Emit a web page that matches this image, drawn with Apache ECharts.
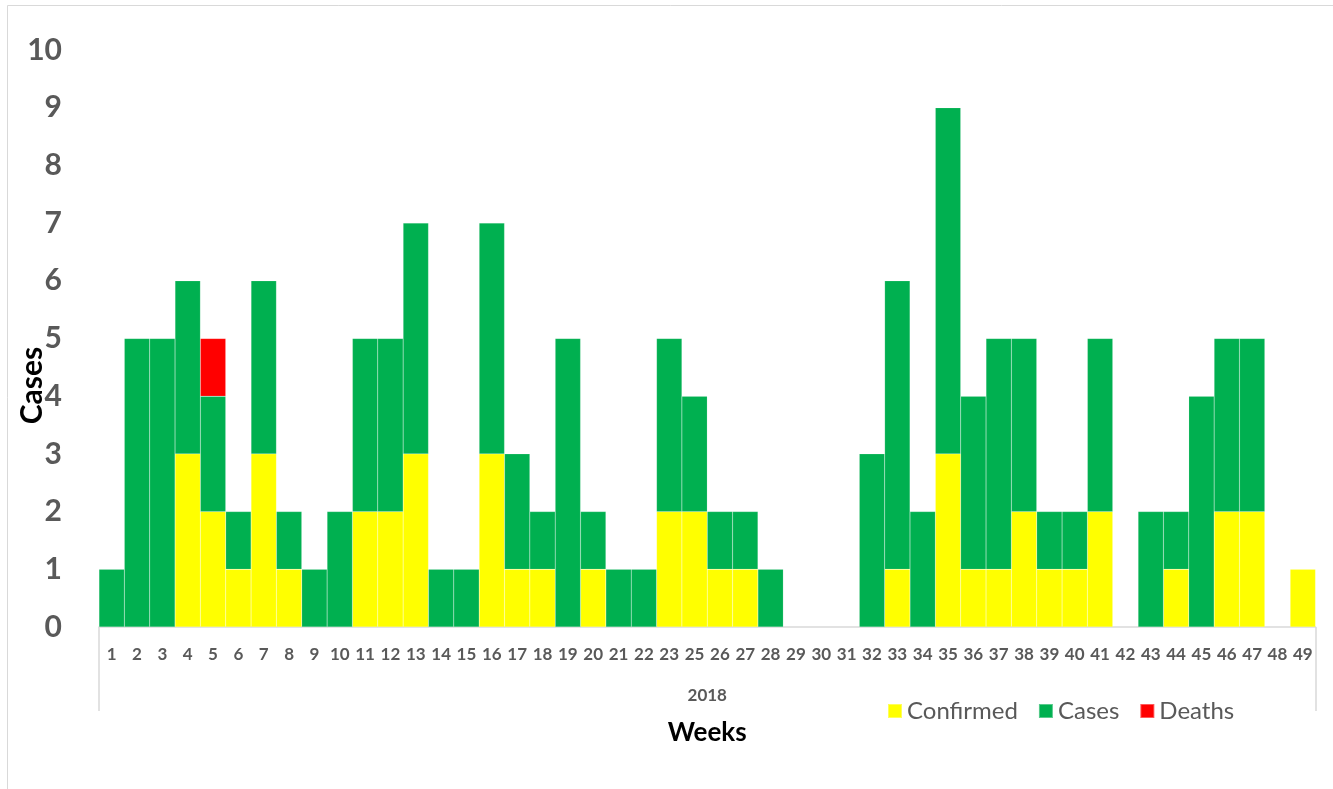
<!DOCTYPE html>
<html>
<head>
<meta charset="utf-8">
<script src="https://cdn.jsdelivr.net/npm/echarts@6/dist/echarts.min.js"></script>
<style>
html,body{margin:0;padding:0;background:#fff;}
#chart{width:1333px;height:789px;}
</style>
</head>
<body>
<div id="chart"></div>
<script>
var weeks = ['1','2','3','4','5','6','7','8','9','10','11','12','13','14','15','16','17','18','19','20','21','22','23','25','26','27','28','29','30','31','32','33','34','35','36','37','38','39','40','41','42','43','44','45','46','47','48','49'];
var confirmed = [0,0,0,3,2,1,3,1,0,0,2,2,3,0,0,3,1,1,0,1,0,0,2,2,1,1,0,0,0,0,0,1,0,3,1,1,2,1,1,2,0,0,1,0,2,2,0,1];
var cases = [1,5,5,3,2,1,3,1,1,2,3,3,4,1,1,4,2,1,5,1,1,1,3,2,1,1,1,0,0,0,3,5,2,6,3,4,3,1,1,3,0,2,1,4,3,3,0,0];
var deaths = [0,0,0,0,1,0,0,0,0,0,0,0,0,0,0,0,0,0,0,0,0,0,0,0,0,0,0,0,0,0,0,0,0,0,0,0,0,0,0,0,0,0,0,0,0,0,0,0];
var yearLabels = ['2018'];

function nz(arr){ return arr.map(function(v){ return v === 0 ? null : v; }); }

var FONT = 'Lato';
var GRAY = '#595959';
var chart = echarts.init(document.getElementById('chart'), null, {renderer:'canvas'});
var barStyle = function(c){ return {color:c, borderColor:'rgba(255,255,255,0.35)', borderWidth:0.4}; };

chart.setOption({
  backgroundColor:'#ffffff',
  animation:false,
  textStyle:{fontFamily:FONT},
  graphic:[
    {type:'line', shape:{x1:7.5,y1:5.5,x2:7.5,y2:789}, style:{stroke:'#d9d9d9', lineWidth:1}, silent:true},
    {type:'line', shape:{x1:7.5,y1:5.5,x2:1333,y2:5.5}, style:{stroke:'#d9d9d9', lineWidth:1}, silent:true}
  ],
  legend:{
    left:882, top:694,
    icon:'rect', itemWidth:14, itemHeight:14, itemGap:20,
    textStyle:{fontFamily:FONT, fontSize:24, color:GRAY},
    data:['Confirmed','Cases','Deaths']
  },
  grid:{left:99, right:17.5, top:50, bottom:162, containLabel:false, outerBoundsMode:'none'},
  xAxis:[
    {
      type:'category', data:weeks, position:'bottom',
      axisLine:{show:true, lineStyle:{color:'#d9d9d9', width:1.5}},
      axisTick:{show:false},
      axisLabel:{interval:0, margin:19, fontFamily:FONT, fontSize:17, fontWeight:'bold', color:GRAY},
      name:'Weeks', nameLocation:'middle', nameGap:93, nameMoveOverlap:false,
      nameTextStyle:{fontFamily:FONT, fontSize:26, fontWeight:'bold', color:'#000'}
    },
    {
      type:'category', data:yearLabels, position:'bottom', offset:84,
      axisLine:{show:false},
      axisTick:{show:true, inside:true, length:84, lineStyle:{color:'#d9d9d9', width:1.5}},
      axisLabel:{inside:true, margin:7, fontFamily:FONT, fontSize:17, fontWeight:'bold', color:GRAY},
      splitLine:{show:false}
    }
  ],
  yAxis:{
    type:'value', min:0, max:10, interval:1,
    axisLine:{show:false}, axisTick:{show:false}, splitLine:{show:false},
    axisLabel:{margin:37, fontFamily:FONT, fontSize:30, fontWeight:'bold', color:GRAY},
    name:'Cases', nameLocation:'middle', nameGap:52, nameMoveOverlap:false,
    nameTextStyle:{fontFamily:FONT, fontSize:30, fontWeight:'bold', color:'#000', padding:[0,94,0,0]}
  },
  series:[
    {name:'Confirmed', type:'bar', stack:'total', xAxisIndex:0, barCategoryGap:'0%', data:nz(confirmed), itemStyle:barStyle('#FFFF00')},
    {name:'Cases', type:'bar', stack:'total', xAxisIndex:0, barCategoryGap:'0%', data:nz(cases), itemStyle:barStyle('#00B050')},
    {name:'Deaths', type:'bar', stack:'total', xAxisIndex:0, barCategoryGap:'0%', data:nz(deaths), itemStyle:barStyle('#FF0000')}
  ]
});
</script>
</body>
</html>
